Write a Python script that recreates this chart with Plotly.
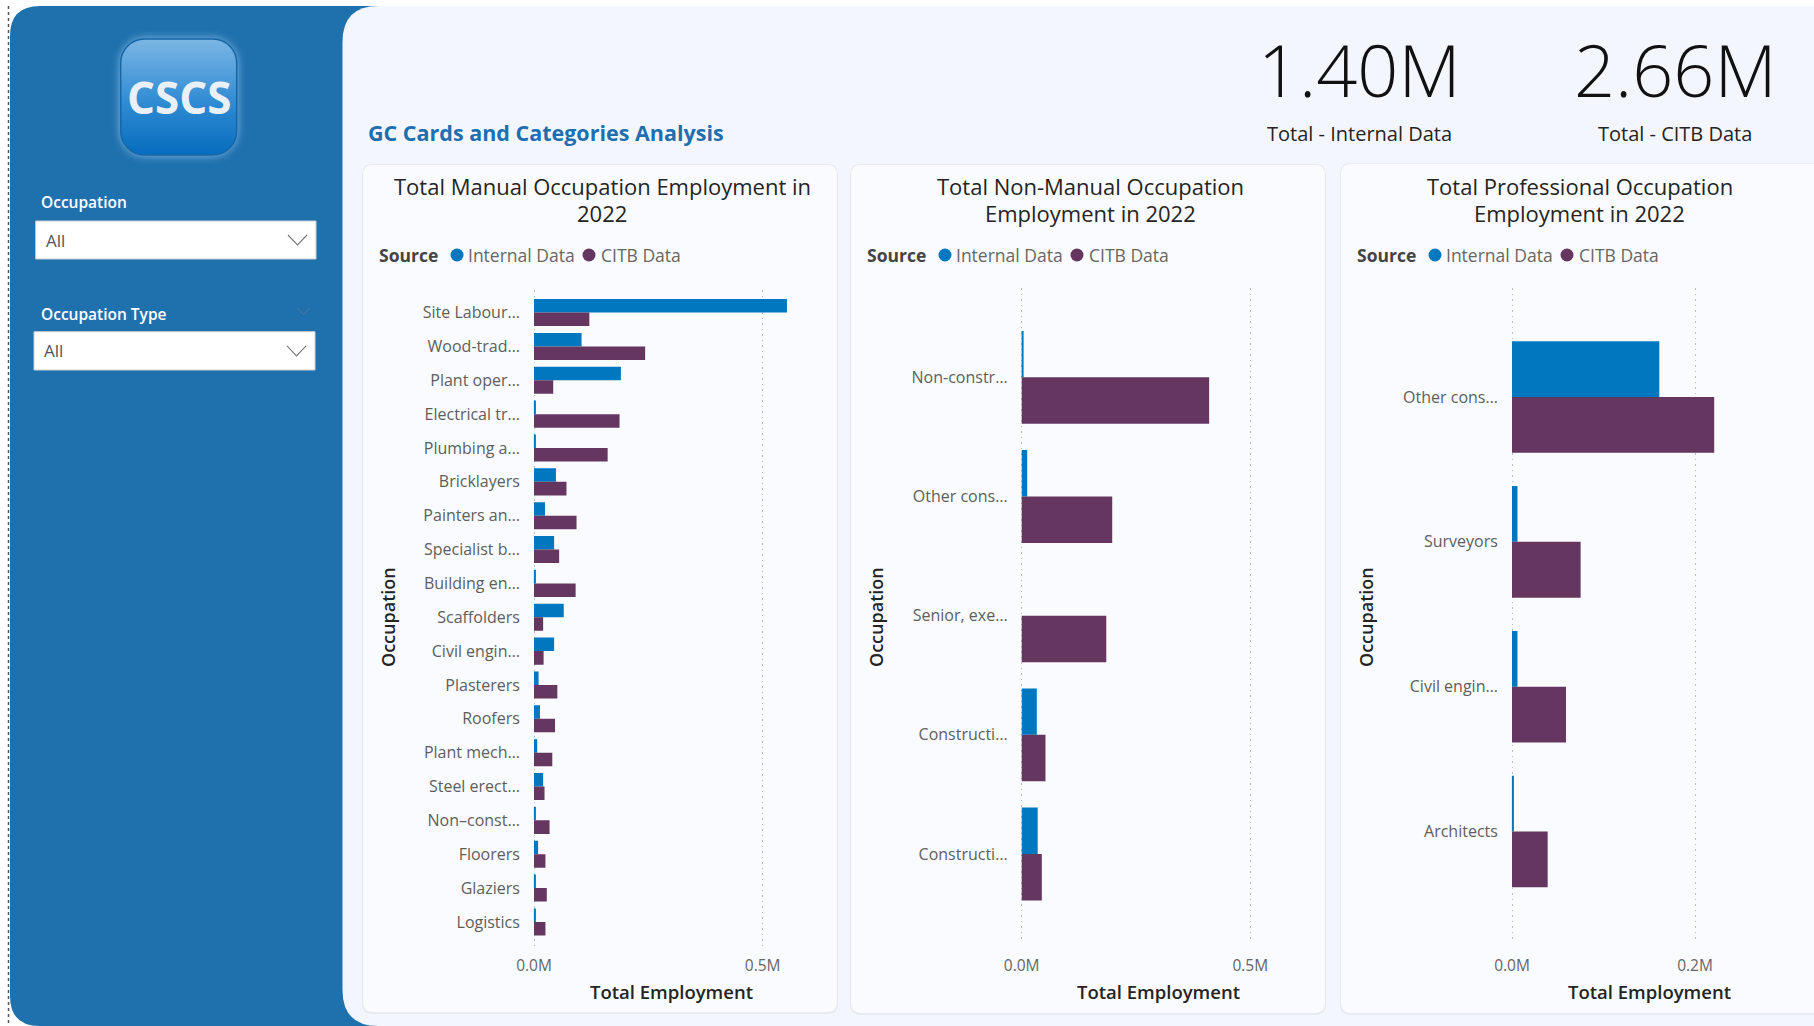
import base64
import plotly.graph_objects as go

# ---------------------------------------------------------------------------
# Data: employment in 2022 by occupation, split by source
# ---------------------------------------------------------------------------
manual_occupations = [
    "Site Labour…", "Wood-trad…", "Plant oper…", "Electrical tr…", "Plumbing a…",
    "Bricklayers", "Painters an…", "Specialist b…", "Building en…", "Scaffolders",
    "Civil engin…", "Plasterers", "Roofers", "Plant mech…", "Steel erect…",
    "Non–const…", "Floorers", "Glaziers", "Logistics",
]
manual_internal = [553000, 104000, 190000, 3000, 3000, 48000, 24000, 44000, 4000, 65000,
                   44000, 10000, 13000, 7000, 20000, 2000, 9000, 2000, 2000]
manual_citb = [121000, 243000, 42000, 187000, 161000, 71000, 93000, 55000, 91000, 20000,
               21000, 51000, 46000, 40000, 23000, 34000, 25000, 28000, 25000]

nonmanual_occupations = ["Non-constr…", "Other cons…", "Senior, exe…", "Constructi…", "Constructi…"]
nonmanual_internal = [3000, 12000, 0, 33000, 35000]
nonmanual_citb = [410000, 198000, 185000, 52000, 44000]

professional_occupations = ["Other cons…", "Surveyors", "Civil engin…", "Architects"]
professional_internal = [161000, 6000, 6000, 1000]
professional_citb = [221000, 75000, 59000, 39000]

source_names = ["Internal Data", "CITB Data"]
source_colors = ["#0177BF", "#653660"]

# ---------------------------------------------------------------------------
# Page geometry helpers (pixel -> paper coordinates)
# ---------------------------------------------------------------------------
W, H = 1814, 1026
FONT = "Open Sans"


def px(x):
    return x / W


def py(y):
    return 1 - y / H


def pt(x, y):
    return f"{px(x):.6f},{py(y):.6f}"


def rounded_path(x0, y0, x1, y1, tl=0, tr=0, br=0, bl=0):
    return (
        f"M{pt(x0 + tl, y0)} L{pt(x1 - tr, y0)} Q{pt(x1, y0)} {pt(x1, y0 + tr)} "
        f"L{pt(x1, y1 - br)} Q{pt(x1, y1)} {pt(x1 - br, y1)} "
        f"L{pt(x0 + bl, y1)} Q{pt(x0, y1)} {pt(x0, y1 - bl)} "
        f"L{pt(x0, y0 + tl)} Q{pt(x0, y0)} {pt(x0 + tl, y0)} Z"
    )


def fmt_m(v):
    return f"{v / 1e6:.1f}M"


fig = go.Figure()

# ---------------------------------------------------------------------------
# Chart panels
#   zero / scale: pixel of x=0 and pixels per unit; xmax: end of value range
# ---------------------------------------------------------------------------
panels = [
    dict(cats=manual_occupations, a=manual_internal, b=manual_citb,
         zero=534.0, scale=457.4e-6, y0=290, y1=948, pad_top=0.667, pad_bot=0.77,
         bw=0.40, xmax=600000, ticks=[0, 500000], standoff=6,
         card=(363, 165, 837, 1012),
         title=["Total Manual Occupation Employment in", "2022"]),
    dict(cats=nonmanual_occupations, a=nonmanual_internal, b=nonmanual_citb,
         zero=1021.7, scale=457.2e-6, y0=288, y1=941, pad_top=0.75, pad_bot=0.73,
         bw=0.39, xmax=600000, ticks=[0, 500000], standoff=13,
         card=(851, 165, 1325, 1013),
         title=["Total Non-Manual Occupation", "Employment in 2022"]),
    dict(cats=professional_occupations, a=professional_internal, b=professional_citb,
         zero=1512.0, scale=915.0e-6, y0=288, y1=941, pad_top=0.753, pad_bot=0.756,
         bw=0.385, xmax=300000, ticks=[0, 200000], standoff=13,
         card=(1341, 164, 1830, 1013),
         title=["Total Professional Occupation", "Employment in 2022"]),
]

shapes = []
annotations = []

# Page furniture: sidebar, main canvas, left dotted border
shapes.append(dict(type="path", xref="paper", yref="paper", layer="below",
                   path=rounded_path(10, 6, 400, 1026, tl=30, bl=30),
                   fillcolor="#1F71AE", line=dict(width=0)))
shapes.append(dict(type="path", xref="paper", yref="paper", layer="below",
                   path=rounded_path(342.5, 6, 1840, 1026, tl=36, bl=36),
                   fillcolor="#F3F7FD", line=dict(width=0)))
shapes.append(dict(type="line", xref="paper", yref="paper", layer="below",
                   x0=px(8.5), x1=px(8.5), y0=py(6), y1=py(1026),
                   line=dict(color="#555555", width=1.5, dash="dot")))

for i, p in enumerate(panels):
    n = "" if i == 0 else str(i + 1)
    xa, ya = "x" + n, "y" + n
    idx = list(range(len(p["cats"])))
    vals = [p["a"], p["b"]]
    for k in range(2):
        fig.add_trace(go.Bar(
            y=idx, x=vals[k], orientation="h", name=source_names[k],
            marker=dict(color=source_colors[k], line=dict(width=0)),
            width=p["bw"], offset=-p["bw"] if k == 0 else 0,
            xaxis=xa, yaxis=ya, showlegend=False,
        ))
    # start the range a hair below zero so the dotted grid line at 0 is drawn
    xmin = -0.004 * p["xmax"]
    dom_x0 = p["zero"] + xmin * p["scale"]
    dom_x1 = p["zero"] + p["xmax"] * p["scale"]
    p["x0"], p["x1"] = p["zero"], dom_x1
    fig.layout["xaxis" + n] = dict(
        domain=[px(dom_x0), px(dom_x1)], range=[xmin, p["xmax"]], anchor=ya,
        tickvals=p["ticks"], ticktext=[fmt_m(v) for v in p["ticks"]],
        showgrid=True, gridcolor="#BDBDBD", griddash="1.5px,4px", gridwidth=1,
        zeroline=False, showline=False, ticks="", ticklabelstandoff=p["standoff"],
        automargin=False,
        tickfont=dict(family=FONT, size=15.5, color="#666666"), fixedrange=True,
    )
    fig.layout["yaxis" + n] = dict(
        domain=[py(p["y1"]), py(p["y0"])], anchor=xa,
        range=[len(idx) - 1 + p["pad_bot"], -p["pad_top"]],
        tickvals=idx, ticktext=p["cats"],
        showgrid=False, zeroline=False, showline=False, ticks="",
        ticklabelstandoff=12, automargin=False,
        tickfont=dict(family=FONT, size=16, color="#605E5C"), fixedrange=True,
    )

    # card background with a soft edge
    cx0, cy0, cx1, cy1 = p["card"]
    shapes.append(dict(type="path", xref="paper", yref="paper", layer="below",
                       path=rounded_path(cx0 - 1, cy0 - 1, cx1 + 1, cy1 + 2, 11, 11, 11, 11),
                       fillcolor="#E7EBF1", line=dict(width=0)))
    shapes.append(dict(type="path", xref="paper", yref="paper", layer="below",
                       path=rounded_path(cx0, cy0, cx1, cy1, 10, 10, 10, 10),
                       fillcolor="#F9FBFE", line=dict(width=0)))
    ccx = (cx0 + min(cx1, 1814)) / 2 + 2
    for line_text, line_y in zip(p["title"], (186, 213)):
        annotations.append(dict(x=px(ccx), y=py(line_y), xref="paper", yref="paper",
                                text=line_text, showarrow=False,
                                xanchor="center", yanchor="middle",
                                font=dict(family=FONT, size=22, color="#252423")))

    # legend row
    lx = cx0 + 14
    annotations.append(dict(x=px(lx), y=py(255), xref="paper", yref="paper", text="Source",
                            showarrow=False, xanchor="left", yanchor="middle",
                            font=dict(family=FONT, size=17.5, color="#444444", weight="bold")))
    for k, (dx_dot, dx_txt) in enumerate([(80, 89), (212, 222)]):
        shapes.append(dict(type="circle", xref="paper", yref="paper", layer="above",
                           x0=px(lx + dx_dot - 6.5), x1=px(lx + dx_dot + 6.5),
                           y0=py(255 + 6.5), y1=py(255 - 6.5),
                           fillcolor=source_colors[k], line=dict(width=0)))
        annotations.append(dict(x=px(lx + dx_txt), y=py(255), xref="paper", yref="paper",
                                text=source_names[k], showarrow=False,
                                xanchor="left", yanchor="middle",
                                font=dict(family=FONT, size=17.5, color="#666666")))

    # axis titles
    annotations.append(dict(x=px((p["x0"] + p["x1"]) / 2), y=py(991), xref="paper", yref="paper",
                            text="Total Employment", showarrow=False,
                            xanchor="center", yanchor="middle",
                            font=dict(family=FONT, size=18.5, color="#252423", weight=600)))
    annotations.append(dict(x=px(cx0 + 25), y=py(617), xref="paper", yref="paper",
                            text="Occupation", showarrow=False, textangle=-90,
                            xanchor="center", yanchor="middle",
                            font=dict(family=FONT, size=18, color="#252423", weight=600)))

# ---------------------------------------------------------------------------
# Header: report title and KPI cards
# ---------------------------------------------------------------------------
annotations.append(dict(x=px(366), y=py(132), xref="paper", yref="paper",
                        text="GC Cards and Categories Analysis", showarrow=False,
                        xanchor="left", yanchor="middle",
                        font=dict(family=FONT, size=21.5, color="#1E6FAF", weight="bold")))

internal_total = sum(manual_internal) + sum(nonmanual_internal) + sum(professional_internal)
citb_total = sum(manual_citb) + sum(nonmanual_citb) + sum(professional_citb)
kpis = [(1359, f"{internal_total / 1e6:.2f}M", "Total - Internal Data"),
        (1675, f"{citb_total / 1e6:.2f}M", "Total - CITB Data")]
for cx, value, label in kpis:
    annotations.append(dict(x=px(cx), y=py(69), xref="paper", yref="paper", text=value,
                            showarrow=False, xanchor="center", yanchor="middle",
                            font=dict(family=FONT, size=72, color="#111111", weight=300)))
    annotations.append(dict(x=px(cx), y=py(134), xref="paper", yref="paper", text=label,
                            showarrow=False, xanchor="center", yanchor="middle",
                            font=dict(family=FONT, size=20, color="#252423")))

# ---------------------------------------------------------------------------
# Sidebar: logo and slicers
# ---------------------------------------------------------------------------
logo_svg = (
    "<svg xmlns='http://www.w3.org/2000/svg' width='140' height='140' viewBox='0 0 140 140'>"
    "<defs><linearGradient id='g' x1='0' y1='0' x2='0' y2='1'>"
    "<stop offset='0' stop-color='#7CB6E4'/><stop offset='0.55' stop-color='#2F8BD3'/>"
    "<stop offset='1' stop-color='#066CBE'/></linearGradient>"
    "<filter id='f' x='-30%' y='-30%' width='160%' height='160%'>"
    "<feGaussianBlur stdDeviation='4'/></filter></defs>"
    "<rect x='11' y='11' width='118' height='118' rx='26' fill='#9CCBF0' opacity='0.75' filter='url(#f)'/>"
    "<rect x='12' y='12' width='116' height='116' rx='24' fill='url(#g)' stroke='#1766A8' stroke-width='1.5'/>"
    "</svg>"
)
logo_uri = "data:image/svg+xml;base64," + base64.b64encode(logo_svg.encode()).decode()
fig.add_layout_image(dict(source=logo_uri, xref="paper", yref="paper",
                          x=px(108.7), y=py(27), sizex=px(140), sizey=140 / H,
                          xanchor="left", yanchor="top", sizing="stretch", layer="above"))
annotations.append(dict(x=px(179), y=py(97), xref="paper", yref="paper", text="CSCS",
                        showarrow=False, xanchor="center", yanchor="middle",
                        font=dict(family=FONT, size=44, color="#EAF0F7", weight="bold")))

slicers = [("Occupation", 202, (35.7, 221, 316, 259)),
           ("Occupation Type", 314, (34, 331.7, 315, 370))]
for label, ly, (bx0, by0, bx1, by1) in slicers:
    annotations.append(dict(x=px(39), y=py(ly), xref="paper", yref="paper", text=label,
                            showarrow=False, xanchor="left", yanchor="middle",
                            font=dict(family=FONT, size=15.5, color="#FFFFFF", weight=600)))
    shapes.append(dict(type="rect", xref="paper", yref="paper", layer="above",
                       x0=px(bx0), x1=px(bx1), y0=py(by1), y1=py(by0),
                       fillcolor="#FFFFFF", line=dict(color="#CFCFCF", width=1)))
    my = (by0 + by1) / 2
    annotations.append(dict(x=px(bx0 + 8), y=py(my), xref="paper", yref="paper", text="All",
                            showarrow=False, xanchor="left", yanchor="middle",
                            font=dict(family=FONT, size=17, color="#555555")))
    shapes.append(dict(type="path", xref="paper", yref="paper", layer="above",
                       path=f"M{pt(bx1 - 28, my - 5)} L{pt(bx1 - 18.5, my + 5)} L{pt(bx1 - 9, my - 5)}",
                       line=dict(color="#777777", width=1.1)))

# faint clear-selection chevron beside the second slicer heading
shapes.append(dict(type="path", xref="paper", yref="paper", layer="above",
                   path=f"M{pt(297, 308)} L{pt(303.5, 314.5)} L{pt(310, 308)}",
                   line=dict(color="#3D77A8", width=1.2)))

fig.update_layout(
    width=W, height=H, margin=dict(l=0, r=0, t=0, b=0, pad=0, autoexpand=False),
    paper_bgcolor="#FFFFFF", plot_bgcolor="rgba(0,0,0,0)",
    barmode="group", shapes=shapes, annotations=annotations,
    font=dict(family=FONT), showlegend=False,
)

fig.write_html("out.html", config={"displayModeBar": False})
